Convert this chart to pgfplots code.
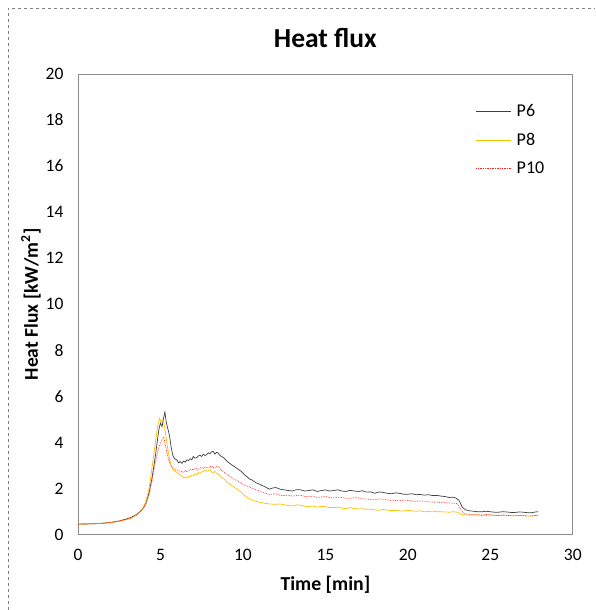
\documentclass[border=0pt]{standalone}
\usepackage{fontspec}
\setmainfont{Carlito}
\usepackage{pgfplots}
\pgfplotsset{compat=1.18}
\definecolor{pblack}{HTML}{404040}
\definecolor{pyellow}{HTML}{FFC000}
\definecolor{pred}{HTML}{FF2020}
\definecolor{axgray}{HTML}{8C8C8C}
\begin{document}
\begin{tikzpicture}
\begin{axis}[
  scale only axis,
  width=495pt, height=461pt,
  xmin=0, xmax=30, ymin=0, ymax=20,
  xtick={0,5,...,30}, ytick={0,2,...,20},
  major tick length=0pt,
  axis line style={axgray, line width=0.8pt},
  /pgf/number format/assume math mode=true,
  tick label style={font=\fontsize{17.5}{19}\selectfont, black},
  yticklabel style={xshift=-11pt},
  xticklabel style={yshift=-11pt},
  title={Heat flux},
  title style={at={(axis description cs:0.5,1.064)}, anchor=center, font=\bfseries\fontsize{27.5}{30}\selectfont},
  xlabel={Time [min]},
  xlabel style={at={(axis description cs:0.5,-0.108)}, anchor=center, font=\bfseries\fontsize{19.8}{22}\selectfont},
  ylabel={Heat Flux [kW/m\textsuperscript{2}]},
  ylabel style={at={(axis description cs:-0.095,0.5)}, rotate=0, anchor=center, font=\bfseries\fontsize{19.5}{22}\selectfont},
  legend style={at={(axis description cs:0.798,0.943)}, anchor=north west, draw=none, fill=none,
    font=\fontsize{18}{20}\selectfont, row sep=11pt, nodes={inner xsep=5pt}},
  legend cell align=left,
  legend image code/.code={\draw[#1] (0pt,0pt) -- (35pt,0pt);},
]
\addplot[color=pblack, line width=0.7pt] coordinates {
(0,0.46)(0.5,0.47)(1.0,0.48)(1.5,0.50)(2.0,0.54)(2.5,0.60)(3.0,0.70)(3.3,0.78)(3.6,0.90)(3.9,1.10)
(4.1,1.35)(4.3,1.80)(4.5,2.50)(4.65,3.20)(4.8,4.00)(4.9,4.55)(5.0,4.85)(5.1,4.70)(5.2,5.10)(5.27,5.33)
(5.35,4.90)(5.45,4.60)(5.55,4.30)(5.65,3.80)(5.75,3.45)(5.85,3.30)(6.0,3.25)(6.1,3.12)(6.2,3.18)(6.3,3.10)
(6.4,3.20)(6.5,3.15)(6.6,3.25)(6.7,3.22)(6.8,3.30)(6.9,3.26)(7.0,3.40)(7.1,3.32)(7.2,3.35)(7.3,3.42)
(7.4,3.45)(7.5,3.40)(7.6,3.50)(7.7,3.44)(7.8,3.48)(7.9,3.56)(8.0,3.52)(8.1,3.60)(8.2,3.62)(8.3,3.50)
(8.4,3.58)(8.5,3.55)(8.6,3.45)(8.7,3.40)(8.8,3.36)(8.9,3.30)(9.0,3.22)(9.1,3.15)(9.2,3.10)(9.3,3.05)
(9.4,3.00)(9.5,2.95)(9.6,2.90)(9.7,2.85)(9.8,2.80)(9.9,2.75)(10.0,2.68)(10.1,2.60)(10.25,2.52)(10.4,2.42)
(10.55,2.38)(10.7,2.30)(10.85,2.24)(11.0,2.20)(11.15,2.14)(11.3,2.10)(11.45,2.04)(11.6,1.98)(11.8,2.03)
(12.0,2.05)(12.25,1.98)(12.5,1.95)(12.75,1.92)(13.0,1.90)(13.25,1.96)(13.5,1.95)(13.75,1.90)(14.0,1.92)
(14.25,1.95)(14.5,1.88)(14.75,1.92)(15.0,1.95)(15.25,1.90)(15.5,1.92)(15.75,1.95)(16.0,1.90)(16.25,1.88)
(16.5,1.93)(16.75,1.90)(17.0,1.88)(17.25,1.91)(17.5,1.85)(17.75,1.86)(18.0,1.80)(18.25,1.86)(18.5,1.84)
(18.75,1.80)(19.0,1.78)(19.25,1.82)(19.5,1.80)(19.75,1.76)(20.0,1.76)(20.25,1.78)(20.5,1.74)(20.75,1.75)
(21.0,1.72)(21.25,1.74)(21.5,1.70)(21.75,1.71)(22.0,1.68)(22.25,1.66)(22.5,1.62)(22.75,1.63)(22.9,1.60)
(23.1,1.50)(23.3,1.20)(23.5,1.08)(23.75,1.04)(24.0,1.02)(24.25,1.00)(24.5,1.00)(24.75,1.02)(25.0,1.00)
(25.25,0.98)(25.5,0.98)(25.75,1.00)(26.0,0.99)(26.25,0.97)(26.5,0.97)(26.75,0.99)(27.0,0.98)(27.25,0.96)
(27.5,0.96)(27.75,0.99)(27.9,1.00)
};
\addlegendentry{P6}
\addplot[color=pyellow, line width=0.7pt] coordinates {
(0,0.46)(0.5,0.47)(1.0,0.48)(1.5,0.50)(2.0,0.53)(2.5,0.58)(3.0,0.67)(3.3,0.75)(3.6,0.88)(3.9,1.10)
(4.1,1.40)(4.3,1.95)(4.45,2.70)(4.6,3.50)(4.75,4.30)(4.85,4.80)(4.95,5.05)(5.05,4.90)(5.15,5.00)(5.25,4.70)
(5.35,4.20)(5.45,3.70)(5.55,3.30)(5.65,3.00)(5.75,2.85)(5.9,2.75)(6.0,2.70)(6.1,2.65)(6.2,2.58)(6.3,2.55)
(6.4,2.48)(6.5,2.50)(6.6,2.46)(6.7,2.55)(6.8,2.52)(6.9,2.60)(7.0,2.58)(7.1,2.65)(7.2,2.62)(7.3,2.70)
(7.4,2.66)(7.5,2.72)(7.6,2.75)(7.7,2.80)(7.8,2.76)(7.9,2.78)(8.0,2.82)(8.1,2.72)(8.2,2.70)(8.3,2.75)
(8.4,2.68)(8.5,2.62)(8.6,2.58)(8.7,2.50)(8.8,2.45)(8.9,2.40)(9.0,2.32)(9.1,2.25)(9.2,2.20)(9.3,2.15)
(9.4,2.10)(9.5,2.05)(9.6,2.00)(9.7,1.95)(9.8,1.90)(9.9,1.85)(10.0,1.78)(10.1,1.70)(10.2,1.66)(10.3,1.60)
(10.4,1.56)(10.5,1.52)(10.65,1.48)(10.8,1.45)(10.95,1.42)(11.1,1.40)(11.3,1.37)(11.5,1.35)(11.75,1.33)
(12.0,1.32)(12.25,1.34)(12.5,1.30)(12.75,1.27)(13.0,1.25)(13.25,1.30)(13.5,1.28)(13.75,1.24)(14.0,1.22)
(14.25,1.25)(14.5,1.20)(14.75,1.23)(15.0,1.22)(15.25,1.18)(15.5,1.18)(15.75,1.20)(16.0,1.15)(16.25,1.14)
(16.5,1.18)(16.75,1.14)(17.0,1.12)(17.25,1.13)(17.5,1.10)(17.75,1.11)(18.0,1.08)(18.25,1.06)(18.5,1.10)
(18.75,1.07)(19.0,1.05)(19.25,1.06)(19.5,1.04)(19.75,1.03)(20.0,1.06)(20.25,1.04)(20.5,1.02)(20.75,1.04)
(21.0,1.00)(21.25,1.01)(21.5,1.03)(21.75,1.00)(22.0,1.00)(22.25,0.99)(22.5,0.98)(22.75,1.00)(23.0,0.98)
(23.2,0.90)(23.4,0.86)(23.7,0.86)(24.0,0.85)(24.25,0.87)(24.5,0.84)(24.75,0.85)(25.0,0.86)(25.25,0.84)
(25.5,0.83)(25.75,0.85)(26.0,0.84)(26.25,0.82)(26.5,0.82)(26.75,0.84)(27.0,0.83)(27.25,0.81)(27.5,0.81)
(27.75,0.83)(27.9,0.84)
};
\addlegendentry{P8}
\addplot[color=pred, line width=0.7pt, densely dotted] coordinates {
(0,0.46)(0.5,0.47)(1.0,0.48)(1.5,0.50)(2.0,0.53)(2.5,0.59)(3.0,0.68)(3.3,0.76)(3.6,0.89)(3.9,1.08)
(4.1,1.30)(4.3,1.70)(4.5,2.40)(4.65,3.00)(4.8,3.50)(4.9,3.80)(5.0,3.95)(5.1,4.15)(5.2,4.25)(5.3,3.90)
(5.4,3.55)(5.5,3.25)(5.6,3.05)(5.75,2.90)(5.9,2.82)(6.0,2.80)(6.1,2.78)(6.2,2.72)(6.3,2.75)(6.4,2.70)
(6.5,2.80)(6.6,2.74)(6.7,2.78)(6.8,2.82)(6.9,2.85)(7.0,2.80)(7.1,2.88)(7.2,2.86)(7.3,2.82)(7.4,2.90)
(7.5,2.92)(7.6,2.88)(7.7,2.95)(7.8,2.92)(7.9,2.90)(8.0,2.96)(8.1,2.98)(8.2,2.92)(8.3,2.90)(8.4,2.96)
(8.5,2.95)(8.6,2.88)(8.7,2.80)(8.8,2.75)(8.9,2.70)(9.0,2.65)(9.1,2.60)(9.2,2.55)(9.3,2.50)(9.4,2.45)
(9.5,2.40)(9.6,2.36)(9.7,2.32)(9.8,2.28)(9.9,2.25)(10.0,2.20)(10.1,2.15)(10.25,2.12)(10.4,2.08)(10.55,2.02)
(10.7,1.98)(10.85,1.94)(11.0,1.90)(11.15,1.86)(11.3,1.82)(11.45,1.78)(11.6,1.75)(11.8,1.77)(12.0,1.78)
(12.25,1.72)(12.5,1.70)(12.75,1.72)(13.0,1.68)(13.25,1.70)(13.5,1.72)(13.75,1.66)(14.0,1.65)(14.25,1.68)
(14.5,1.62)(14.75,1.64)(15.0,1.66)(15.25,1.62)(15.5,1.60)(15.75,1.63)(16.0,1.62)(16.25,1.58)(16.5,1.58)
(16.75,1.61)(17.0,1.60)(17.25,1.56)(17.5,1.55)(17.75,1.54)(18.0,1.52)(18.25,1.55)(18.5,1.55)(18.75,1.51)
(19.0,1.50)(19.25,1.49)(19.5,1.48)(19.75,1.50)(20.0,1.50)(20.25,1.47)(20.5,1.45)(20.75,1.47)(21.0,1.46)
(21.25,1.43)(21.5,1.42)(21.75,1.42)(22.0,1.40)(22.25,1.39)(22.5,1.38)(22.75,1.37)(23.0,1.36)(23.2,1.10)
(23.4,0.92)(23.7,0.89)(24.0,0.88)(24.25,0.86)(24.5,0.86)(24.75,0.88)(25.0,0.87)(25.25,0.85)(25.5,0.84)
(25.75,0.86)(26.0,0.85)(26.25,0.83)(26.5,0.83)(26.75,0.85)(27.0,0.84)(27.25,0.82)(27.5,0.82)(27.75,0.84)
(27.9,0.85)
};
\addlegendentry{P10}
\end{axis}
\draw[gray, dashed, line width=0.5pt] (-70pt,-75pt) -- (-70pt,527pt) -- (517pt,527pt);
\path[use as bounding box] (-78pt,-75pt) rectangle (517pt,535pt);
\end{tikzpicture}
\end{document}
